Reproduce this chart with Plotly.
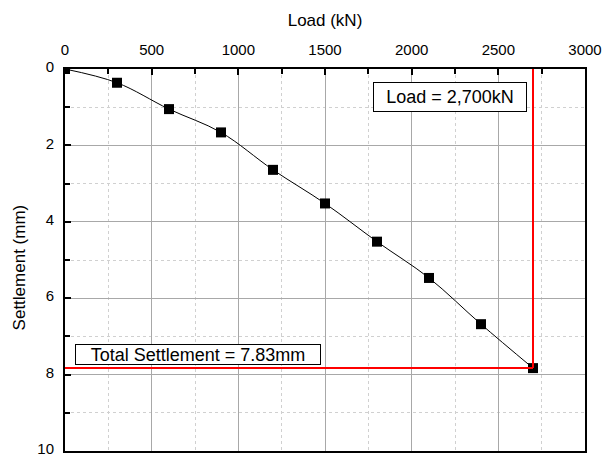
import plotly.graph_objects as go

load_kn = [0, 300, 600, 900, 1200, 1500, 1800, 2100, 2400, 2700]
settlement_mm = [0, 0.36, 1.05, 1.66, 2.64, 3.52, 4.52, 5.47, 6.68, 7.83]
final_load = 2700
final_settlement = 7.83
x_ticks = [0, 500, 1000, 1500, 2000, 2500, 3000]
y_ticks = [0, 2, 4, 6, 8, 10]

font = "Liberation Sans, Arial, sans-serif"

fig = go.Figure()
fig.add_trace(go.Scatter(x=load_kn, y=settlement_mm, mode="lines+markers",
                         line=dict(color="black", width=1, shape="spline", smoothing=1.0),
                         marker=dict(symbol="square", size=10, color="black"),
                         showlegend=False))
fig.add_trace(go.Scatter(x=[final_load, final_load], y=[0, final_settlement], mode="lines",
                         line=dict(color="#ff0000", width=2), showlegend=False))
fig.add_trace(go.Scatter(x=[0, final_load], y=[final_settlement, final_settlement], mode="lines",
                         line=dict(color="#ff0000", width=2), showlegend=False))

fig.add_annotation(x=2221, y=0.72, text="Load = 2,700kN", showarrow=False,
                   font=dict(family=font, size=18, color="black"),
                   bordercolor="black", borderwidth=1, borderpad=0, bgcolor="white",
                   width=152, height=28)
fig.add_annotation(x=767, y=7.48, text="Total Settlement = 7.83mm", showarrow=False,
                   font=dict(family=font, size=18, color="black"),
                   bordercolor="black", borderwidth=1, borderpad=0, bgcolor="white",
                   width=244, height=19)
# y-axis title
fig.add_annotation(xref="paper", yref="paper", x=-0.087, y=0.48, text="Settlement (mm)",
                   textangle=-90, showarrow=False, xanchor="center", yanchor="middle",
                   font=dict(family=font, size=17, color="black"))

fig.update_layout(
    width=614, height=457,
    margin=dict(l=65, r=29, t=69, b=6),
    plot_bgcolor="white", paper_bgcolor="white",
    font=dict(family=font, size=15, color="black"),
    xaxis=dict(side="top", range=[0, 3000], tickvals=x_ticks, automargin=False,
               title=dict(text="Load (kN)", font=dict(size=17), standoff=10),
               showline=True, linecolor="black", linewidth=2, mirror=True,
               ticks="inside", ticklen=6, tickcolor="black", tickwidth=1.5,
               ticklabelstandoff=6, ticklabeloverflow="allow",
               showgrid=True, gridcolor="#a8a8a8", gridwidth=1,
               zeroline=False,
               minor=dict(dtick=250, showgrid=True, gridcolor="#d0d0d0", griddash="dot",
                          ticks="inside", ticklen=5, tickcolor="black")),
    yaxis=dict(range=[10, 0], tickvals=y_ticks, automargin=False,
               showline=True, linecolor="black", linewidth=2, mirror=True,
               ticks="inside", ticklen=6, tickcolor="black", tickwidth=1.5,
               ticklabelstandoff=6, ticklabelshift=2, ticklabeloverflow="allow",
               showgrid=True, gridcolor="#a8a8a8", gridwidth=1,
               zeroline=False,
               minor=dict(dtick=1, showgrid=True, gridcolor="#d0d0d0", griddash="dot",
                          ticks="inside", ticklen=5, tickcolor="black")),
)

fig.write_html("out.html")
